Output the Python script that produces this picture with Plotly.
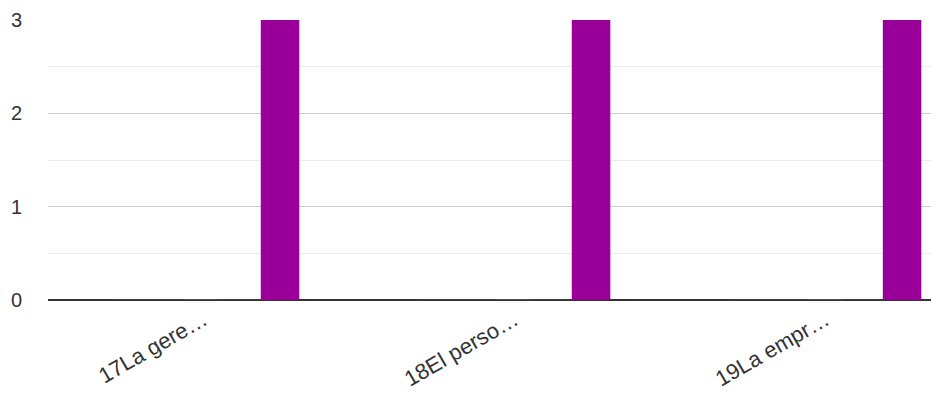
import plotly.graph_objects as go

# Statements rated (labels truncated as shown on the axis)
categories = ["17La gere…", "18El perso…", "19La empr…"]

# Response options and their counts per statement
series_names = ["Totalmente en desacuerdo", "En desacuerdo", "Neutral", "De acuerdo", "Totalmente de acuerdo"]
series_colors = ["#3366cc", "#dc3912", "#ff9900", "#109618", "#990099"]
series_values = [
    [0, 0, 0],
    [0, 0, 0],
    [0, 0, 0],
    [0, 0, 0],
    [3, 3, 3],
]

y_ticks = [0, 1, 2, 3]


def faint(hex_color, alpha):
    h = hex_color.lstrip("#")
    r, g, b = int(h[0:2], 16), int(h[2:4], 16), int(h[4:6], 16)
    return f"rgba({r},{g},{b},{alpha})"


fig = go.Figure()
for name, color, vals in zip(series_names, series_colors, series_values):
    fig.add_trace(go.Bar(
        x=categories,
        y=vals,
        name=name,
        marker=dict(color=color, line=dict(color=faint(color, 0.25), width=1)),
    ))

font_family = "Liberation Sans, Arial, sans-serif"

fig.update_layout(
    width=931,
    height=394,
    margin=dict(l=48, r=0, t=20, b=94),
    paper_bgcolor="white",
    plot_bgcolor="white",
    barmode="group",
    bargap=0.385,
    bargroupgap=0.0,
    showlegend=False,
    font=dict(family=font_family, size=20, color="#333333"),
    xaxis=dict(
        range=[-0.5, 2.339],
        tickangle=-30,
        showgrid=False,
        showline=False,
        zeroline=False,
        ticks="",
        ticklabelstandoff=2,
        tickfont=dict(size=22, color="#333333"),
    ),
    yaxis=dict(
        range=[0, 3],
        tickvals=y_ticks,
        showgrid=True,
        gridcolor="#cccccc",
        gridwidth=1,
        zeroline=True,
        zerolinecolor="#333333",
        zerolinewidth=2,
        showline=False,
        ticks="",
        ticklabelstandoff=25,
        tickfont=dict(size=20, color="#333333"),
        minor=dict(dtick=0.5, showgrid=True, gridcolor="#ebebeb", gridwidth=1),
    ),
)

fig.write_html("out.html")
